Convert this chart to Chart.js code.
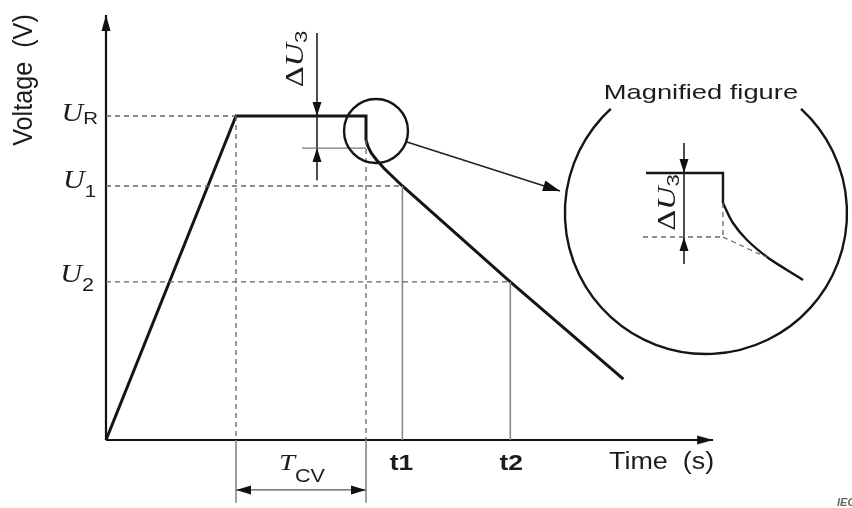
<!DOCTYPE html>
<html><head><meta charset="utf-8">
<script src="https://cdn.jsdelivr.net/npm/chart.js@4/dist/chart.umd.min.js"></script>
<style>html,body{margin:0;padding:0;background:#fff;}canvas{display:block;}</style>
</head><body>
<canvas id="c" width="852" height="508"></canvas>
<script>
// ---------- data (time units / voltage units, U_R = 100) ----------
const U_R = 100, U_1 = 78.4, U_2 = 48.8, U_DIP = 92.6, U_REF = 90.1;
const T_RAMP = 10, T_CV_END = 20, T_1 = 22.8, T_2 = 31.1;
const AXIS_T_END = 46.7, AXIS_U_END = 131.2;

// main voltage curve
const curveTime = [0, 10, 20, 20, 20.15, 20.4, 20.8, 21.4, 22.8, 31.1, 39.8];
const curveVolt = [0, 100, 100, 92.6, 90.6, 88.6, 86.5, 83.8, 78.4, 48.8, 18.8];

// magnified inset (drawn in the same axes)
const insetStepTime = [41.54, 47.46, 47.46];
const insetStepVolt = [82.41, 82.41, 73.15];
const insetCurveTime = [47.46, 48.23, 49.31, 50.85, 52.38, 53.62];
const insetCurveVolt = [73.15, 66.98, 61.73, 56.48, 52.47, 49.38];
const insetDashTime = [47.46, 48.77, 50.08, 50.85];
const insetDashVolt = [62.65, 60.19, 57.72, 56.48];
const INSET_REF = 62.65, INSET_TOP = 82.41, INSET_LEFT = 41.31, INSET_STEP_T = 47.46, INSET_ARROW_T = 44.46;

// ΔU3 marker on the main curve
const DU_T = 16.23, DU_TOP = 125.6, DU_BOT = 80.2, DU_REF_START = 15.08;
const INSET_DU_TOP = 91.67, INSET_DU_BOT = 54.32;
const BRACKET_LOW = -19.4, BRACKET_ARROW = -15.4;

// zoom circles (centre time, centre voltage, radius in time units)
const smallCircle = [20.77, 95.37, 2.46];
const bigCircle = [46.15, 70.06, 10.85];
const pointerFrom = [23.15, 91.98], pointerTo = [34.92, 76.85];

// scale limits
const X_MIN = -8.154, X_MAX = 57.385, Y_MIN = -20.99, Y_MAX = 135.8;

// ---------- helpers ----------
const pts = (xs, ys) => xs.map((x, i) => ({x, y: ys[i]}));
const seg = (a, b) => [{x: a[0], y: a[1]}, {x: b[0], y: b[1]}];
const line = (data, o) => Object.assign({data, showLine: true, pointRadius: 0, borderColor: '#111', borderWidth: 2, tension: 0, clip: false, fill: false}, o || {});
const DASH = {borderColor: '#666', borderWidth: 1.3, borderDash: [5, 4]};
const THIN = {borderColor: '#888', borderWidth: 1.6};

const datasets = [
  // dashed guides
  line(seg([0, U_R], [T_RAMP, U_R]), DASH),
  line(seg([0, U_1], [T_1, U_1]), DASH),
  line(seg([0, U_2], [T_2, U_2]), DASH),
  line(seg([T_RAMP, U_R], [T_RAMP, 0]), DASH),
  line(seg([T_CV_END, U_DIP], [T_CV_END, 0]), DASH),
  // thin solid guides
  line(seg([T_1, U_1], [T_1, 0]), THIN),
  line(seg([T_2, U_2], [T_2, 0]), THIN),
  line(seg([T_RAMP, 0], [T_RAMP, BRACKET_LOW]), THIN),
  line(seg([T_CV_END, 0], [T_CV_END, BRACKET_LOW]), THIN),
  line(seg([T_RAMP, BRACKET_ARROW], [T_CV_END, BRACKET_ARROW]), {borderColor: '#555', borderWidth: 1.3}),
  line(seg([DU_REF_START, U_REF], [T_CV_END, U_REF]), {borderColor: '#777', borderWidth: 1.3}),
  line(seg([DU_T, DU_TOP], [DU_T, DU_BOT]), {borderColor: '#222', borderWidth: 1.6}),
  // axes
  line(seg([0, 0], [0, AXIS_U_END]), {borderWidth: 2.2}),
  line(seg([0, 0], [AXIS_T_END, 0]), {borderWidth: 2.2}),
  // main curve
  line(pts(curveTime, curveVolt), {borderWidth: 3, borderColor: '#151515', borderJoinStyle: 'miter'}),
  // pointer arrow
  line(seg(pointerFrom, pointerTo), {borderWidth: 1.6, borderColor: '#222'}),
  // inset
  line(seg([INSET_LEFT, INSET_REF], [INSET_STEP_T, INSET_REF]), DASH),
  line(seg([INSET_STEP_T, insetStepVolt[2]], [INSET_STEP_T, INSET_REF]), DASH),
  line(pts(insetDashTime, insetDashVolt), Object.assign({}, DASH, {tension: 0.3})),
  line(seg([INSET_ARROW_T, INSET_DU_TOP], [INSET_ARROW_T, INSET_DU_BOT]), {borderColor: '#222', borderWidth: 1.6}),
  line(pts(insetStepTime, insetStepVolt), {borderWidth: 2.4, borderColor: '#151515'}),
  line(pts(insetCurveTime, insetCurveVolt), {borderWidth: 2.4, borderColor: '#151515', tension: 0.35})
];

// arrowheads: tip, from, length px, half width px
const arrowHeads = [
  [[0, AXIS_U_END], [0, 0], 16, 4.5],
  [[AXIS_T_END, 0], [0, 0], 16, 4.5],
  [[DU_T, U_R], [DU_T, DU_TOP], 14, 4.5],
  [[DU_T, U_REF], [DU_T, DU_BOT], 14, 4.5],
  [[T_RAMP, BRACKET_ARROW], [T_CV_END, BRACKET_ARROW], 15, 4.5],
  [[T_CV_END, BRACKET_ARROW], [T_RAMP, BRACKET_ARROW], 15, 4.5],
  [pointerTo, pointerFrom, 17, 5.5],
  [[INSET_ARROW_T, INSET_TOP], [INSET_ARROW_T, INSET_DU_TOP], 14, 4.5],
  [[INSET_ARROW_T, INSET_REF], [INSET_ARROW_T, INSET_DU_BOT], 14, 4.5]
];

const SERIF_I = s => 'italic ' + s + 'px "Liberation Serif", "DejaVu Serif", serif';
const SERIF = s => s + 'px "Liberation Serif", "DejaVu Serif", serif';
const SANS = s => s + 'px "Liberation Sans", Arial, sans-serif';
const SANS_B = s => 'bold ' + s + 'px "Liberation Sans", Arial, sans-serif';

// labels: anchor (time, voltage), pixel offset, alignment, rotation, stretch, rich segments
const labels = [
  {at: [0, 111.1], dx: -74, dy: 0, align: 'center', rot: -Math.PI / 2, sx: 1.05, sy: 1.12,
   segs: [{t: 'Voltage  (V)', f: SANS(24)}]},
  {at: [0, U_R], dx: -8, dy: 5, align: 'right', sx: 1.2,
   segs: [{t: 'U', f: SERIF_I(25)}, {t: 'R', f: SANS(17), dy: 3}]},
  {at: [0, U_1], dx: -10, dy: 2, align: 'right', sx: 1.2,
   segs: [{t: 'U', f: SERIF_I(25)}, {t: '1', f: SANS(17), dy: 9}]},
  {at: [0, U_2], dx: -12, dy: 0, align: 'right', sx: 1.2,
   segs: [{t: 'U', f: SERIF_I(25)}, {t: '2', f: SANS(18), dy: 9}]},
  {at: [(T_RAMP + T_CV_END) / 2, 0], dx: 1, dy: 30, align: 'center', sx: 1.2,
   segs: [{t: 'T', f: SERIF_I(24)}, {t: 'CV', f: SANS(18), dy: 12}]},
  {at: [T_1, 0], dx: -1, dy: 30, align: 'center', sx: 1.2, segs: [{t: 't1', f: SANS_B(22)}]},
  {at: [T_2, 0], dx: 1, dy: 30, align: 'center', sx: 1.2, segs: [{t: 't2', f: SANS_B(22)}]},
  {at: [38.69, 0], dx: 0, dy: 29, align: 'left', sx: 1.17, segs: [{t: 'Time  (s)', f: SANS(23)}]},
  {at: [DU_T, 117.6], dx: -14, dy: 0, align: 'center', rot: -Math.PI / 2, sx: 1.3, sy: 1.0,
   segs: [{t: '\u0394', f: SERIF(25)}, {t: 'U', f: SERIF_I(25)}, {t: '3', f: SANS(17), dy: 4}]},
  {at: [INSET_ARROW_T, 73.3], dx: -9, dy: 0, align: 'center', rot: -Math.PI / 2, sx: 1.3, sy: 1.0,
   segs: [{t: '\u0394', f: SERIF(25)}, {t: 'U', f: SERIF_I(25)}, {t: '3', f: SANS(17), dy: 4}]},
  {at: [bigCircle[0], 105.25], dx: -5, dy: 0, align: 'center', sx: 1.3, segs: [{t: 'Magnified figure', f: SANS(21)}]},
  {at: [X_MAX, Y_MIN], dx: -15, dy: -2, align: 'left', sx: 1, color: '#666', segs: [{t: 'IEC', f: 'italic bold 11px "Liberation Sans", Arial, sans-serif'}]}
];

function drawRich(ctx, px, py, L) {
  ctx.save();
  ctx.translate(px, py);
  if (L.rot) ctx.rotate(L.rot);
  ctx.scale(L.sx || 1, L.sy || 1);
  let w = 0;
  L.segs.forEach(s => { ctx.font = s.f; s.w = ctx.measureText(s.t).width; w += s.w; });
  let x0 = L.align === 'center' ? -w / 2 : (L.align === 'right' ? -w : 0);
  ctx.textAlign = 'left';
  ctx.textBaseline = 'alphabetic';
  ctx.fillStyle = L.color || '#1c1c1c';
  L.segs.forEach(s => { ctx.font = s.f; ctx.fillText(s.t, x0, s.dy || 0); x0 += s.w; });
  ctx.restore();
}

const decorPlugin = {
  id: 'decor',
  afterDatasetsDraw(chart) {
    const ctx = chart.ctx, xs = chart.scales.x, ys = chart.scales.y;
    const P = p => [xs.getPixelForValue(p[0]), ys.getPixelForValue(p[1])];
    // circles
    ctx.save();
    ctx.strokeStyle = '#151515';
    ctx.lineWidth = 2.4;
    let c = P(smallCircle), r = xs.getPixelForValue(smallCircle[0] + smallCircle[2]) - c[0];
    ctx.beginPath(); ctx.arc(c[0], c[1], r, 0, Math.PI * 2); ctx.stroke();
    c = P(bigCircle); r = xs.getPixelForValue(bigCircle[0] + bigCircle[2]) - c[0];
    ctx.beginPath(); ctx.arc(c[0], c[1], r, -47.6 * Math.PI / 180, 227.6 * Math.PI / 180); ctx.stroke();
    // arrowheads
    ctx.fillStyle = '#111';
    arrowHeads.forEach(([tipD, fromD, len, half]) => {
      const t = P(tipD), f = P(fromD);
      const a = Math.atan2(t[1] - f[1], t[0] - f[0]);
      const bx = t[0] - len * Math.cos(a), by = t[1] - len * Math.sin(a);
      ctx.beginPath();
      ctx.moveTo(t[0], t[1]);
      ctx.lineTo(bx + half * Math.sin(a), by - half * Math.cos(a));
      ctx.lineTo(bx - half * Math.sin(a), by + half * Math.cos(a));
      ctx.closePath(); ctx.fill();
    });
    ctx.restore();
    // labels
    labels.forEach(L => {
      const p = P(L.at);
      drawRich(ctx, p[0] + (L.dx || 0), p[1] + (L.dy || 0), L);
    });
  }
};

new Chart(document.getElementById('c'), {
  type: 'scatter',
  data: {datasets},
  options: {
    responsive: false,
    animation: false,
    events: [],
    layout: {padding: 0},
    scales: {
      x: {type: 'linear', display: false, min: X_MIN, max: X_MAX},
      y: {type: 'linear', display: false, min: Y_MIN, max: Y_MAX}
    },
    plugins: {legend: {display: false}, tooltip: {enabled: false}}
  },
  plugins: [decorPlugin]
});
</script>
</body></html>
